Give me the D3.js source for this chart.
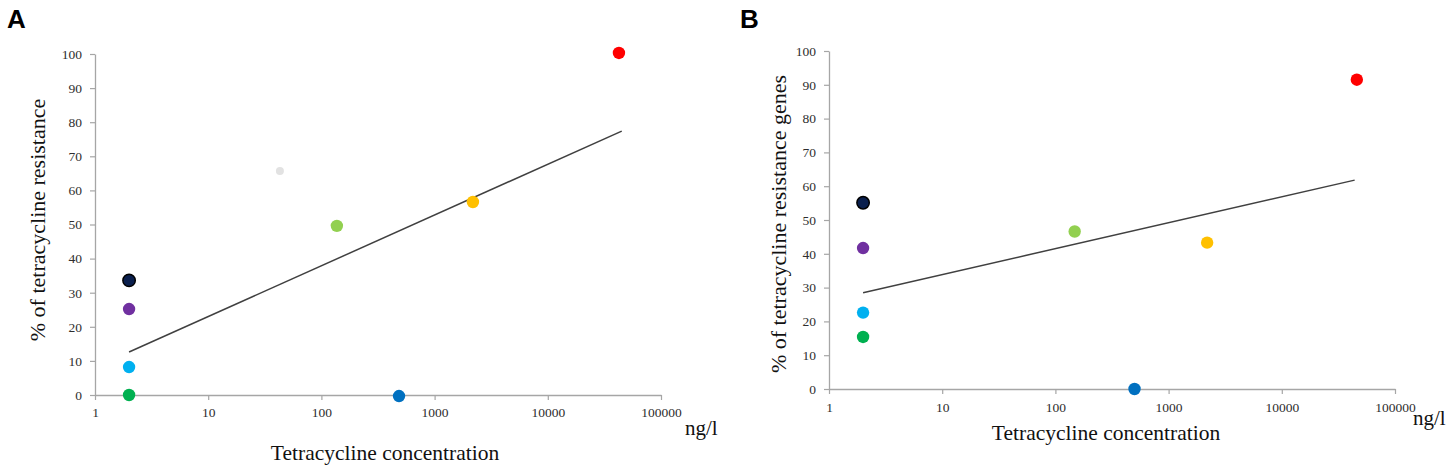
<!DOCTYPE html>
<html>
<head>
<meta charset="utf-8">
<script src="https://cdn.jsdelivr.net/npm/d3@7"></script>
<style>
  body { margin: 0; background: #fff; }
  svg { display: block; }
</style>
</head>
<body>
<svg id="chart" width="1450" height="470"></svg>
<script>
// panel A: % of tetracycline resistance vs concentration (ng/l)
const concA = [2, 2, 2, 2, 43, 137, 485, 2180, 42500];
const resistA = [0, 8.2, 25.2, 33.6, 65.7, 49.6, -0.3, 56.6, 100.3];
const colorsA = ["#00b050", "#00b0f0", "#7030a0", "#0a1f4d", "#e2e2e2", "#92d050", "#0070c0", "#ffc000", "#ff0000"];
const trendConcA = [2, 45000];
const trendA = [12.6, 77.4];

// panel B: % of tetracycline resistance genes
const concB = [2, 2, 2, 2, 148, 500, 2190, 46000];
const resistB = [15.4, 22.6, 41.7, 55.1, 46.6, 0, 43.3, 91.5];
const colorsB = ["#00b050", "#00b0f0", "#7030a0", "#0a1f4d", "#92d050", "#0070c0", "#ffc000", "#ff0000"];
const trendConcB = [2, 44000];
const trendB = [28.5, 61.8];

const xTicks = [1, 10, 100, 1000, 10000, 100000];
const yTicks = [0, 10, 20, 30, 40, 50, 60, 70, 80, 90, 100];

const chart = d3.select("#chart");
const serif = "'Liberation Serif', 'Times New Roman', serif";

function drawPanel(opts) {
  const xScale = d3.scaleLog().domain([1, 100000]).range(opts.xRange);
  const yScale = d3.scaleLinear().domain([0, 100]).range(opts.yRange);

  const g = chart.append("g");

  const xAxis = d3.axisBottom(xScale)
    .tickValues(xTicks)
    .tickFormat(d3.format("d"))
    .tickSize(5)
    .tickPadding(opts.xPad)
    .tickSizeOuter(0);
  const yAxis = d3.axisLeft(yScale)
    .tickValues(yTicks)
    .tickSize(5)
    .tickPadding(8)
    .tickSizeOuter(0);

  const gx = g.append("g")
    .attr("transform", `translate(0, ${opts.yRange[0]})`)
    .call(xAxis);
  const gy = g.append("g")
    .attr("transform", `translate(${opts.xRange[0]}, 0)`)
    .call(yAxis);

  [gx, gy].forEach((ax) => {
    ax.select(".domain").attr("stroke", "#a6a6a6").attr("stroke-width", 1.3);
    ax.selectAll(".tick line").attr("stroke", "#a6a6a6").attr("stroke-width", 1.2);
    ax.selectAll(".tick text")
      .attr("fill", "#2e2e2e")
      .style("font-family", serif)
      .style("font-size", "13.5px");
  });

  // trend line
  const line = d3.line()
    .x((d) => xScale(d[0]))
    .y((d) => yScale(d[1]));
  g.append("path")
    .datum(opts.trendX.map((x, i) => [x, opts.trendY[i]]))
    .attr("d", line)
    .attr("fill", "none")
    .attr("stroke", "#404040")
    .attr("stroke-width", 1.5);

  // points
  g.selectAll("circle")
    .data(opts.conc.map((c, i) => ({ conc: c, val: opts.vals[i], color: opts.colors[i] })))
    .enter()
    .append("circle")
    .attr("cx", (d) => xScale(d.conc))
    .attr("cy", (d) => yScale(d.val))
    .attr("r", (d) => (d.color === "#e2e2e2" ? 4 : 6.2))
    .style("fill", (d) => d.color)
    .style("stroke", (d) => (d.color === "#0a1f4d" ? "#000" : "none"))
    .style("stroke-width", 1.5);

  // titles
  g.append("text")
    .attr("x", opts.xTitle[0])
    .attr("y", opts.xTitle[1])
    .attr("text-anchor", "middle")
    .style("font-family", serif)
    .style("font-size", "21.5px")
    .attr("fill", "#111")
    .text("Tetracycline concentration");

  g.append("text")
    .attr("x", opts.unit[0])
    .attr("y", opts.unit[1])
    .style("font-family", serif)
    .style("font-size", "21px")
    .attr("fill", "#111")
    .text("ng/l");

  g.append("text")
    .attr("transform", `translate(${opts.yTitle[0]}, ${opts.yTitle[1]}) rotate(-90)`)
    .attr("text-anchor", "middle")
    .attr("dy", "0.35em")
    .style("font-family", serif)
    .style("font-size", "22px")
    .attr("fill", "#111")
    .text(opts.yLabel);

  g.append("text")
    .attr("x", opts.letter[0])
    .attr("y", opts.letter[1])
    .style("font-family", "'Liberation Sans', Arial, sans-serif")
    .style("font-size", "26px")
    .style("font-weight", "bold")
    .text(opts.name);
}

drawPanel({
  name: "A",
  letter: [7, 28],
  xRange: [95, 661],
  yRange: [395, 54],
  xPad: 7,
  conc: concA,
  vals: resistA,
  colors: colorsA,
  trendX: trendConcA,
  trendY: trendA,
  xTitle: [385, 460],
  unit: [685, 435],
  yTitle: [37, 220],
  yLabel: "% of tetracycline resistance",
});

drawPanel({
  name: "B",
  letter: [740, 28],
  xRange: [829, 1395],
  yRange: [389, 51],
  xPad: 8,
  conc: concB,
  vals: resistB,
  colors: colorsB,
  trendX: trendConcB,
  trendY: trendB,
  xTitle: [1106, 440],
  unit: [1413, 425],
  yTitle: [778, 224],
  yLabel: "% of tetracycline resistance genes",
});
</script>
</body>
</html>
